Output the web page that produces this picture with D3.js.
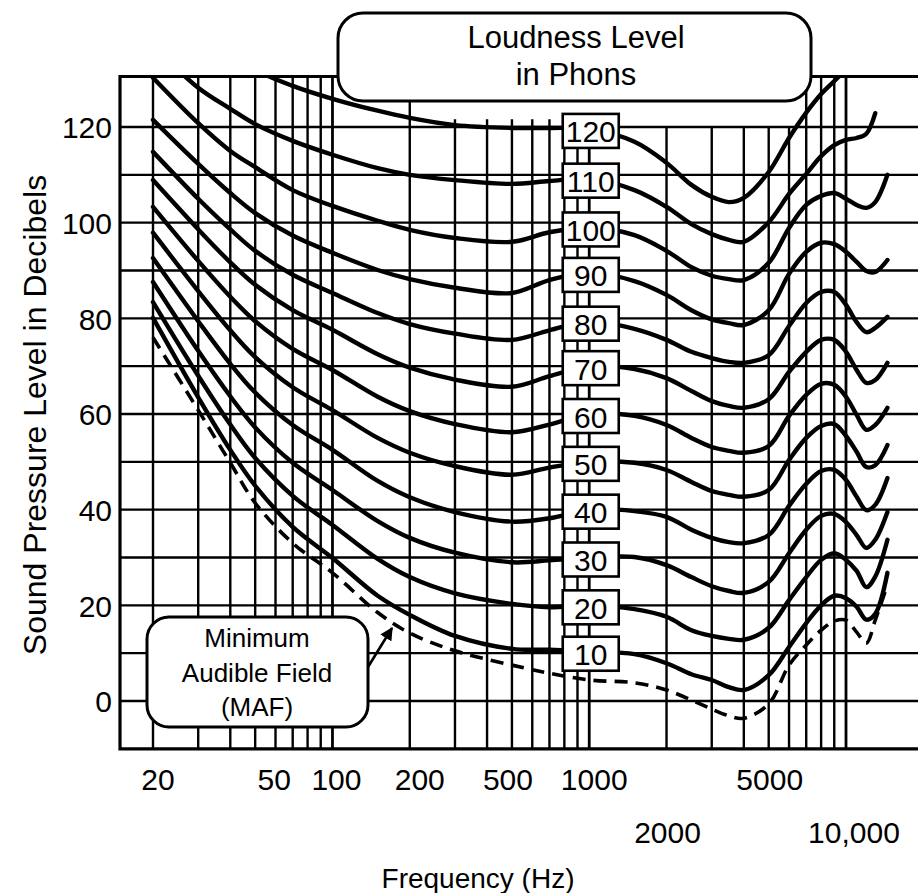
<!DOCTYPE html>
<html><head><meta charset="utf-8">
<script src="https://cdn.jsdelivr.net/npm/d3@7"></script>
<style>
html,body{margin:0;padding:0;background:#fff;}
svg{display:block;font-family:"Liberation Sans", Arial, Helvetica, sans-serif;}
</style></head><body>
<svg id="chart" width="918" height="893"></svg>
<script>
// ---------------- data ----------------
const freqs = [20,30,40,50,70,100,150,200,300,500,700,1000,1500,2000,2500,3000,3500,4000,5000,6000,7000,8000,9000,10000,11000,12000,13000,14500];
const phonLevels = [120,110,100,90,80,70,60,50,40,30,20,10];
const phon120 = [148,141,136,132,128.6,125.9,123.4,121.9,120.4,119.8,119.8,119.6,116.9,112.5,107.9,105.4,104.3,105.2,110.6,117.7,123,126.9,129.6,132,134,null,null,null];
const phon110 = [137,128.2,123.8,120.6,117.1,114.2,111.4,110,108.9,108.1,108.7,109.2,106.8,103.3,99.7,97.6,96.4,96,100.1,106,110.2,113.9,116.2,117.3,117.7,118.6,122.9,null];
const phon100 = [130.3,120.8,115,111.6,106.8,103.5,100.4,98.5,96.8,96,98,99,97.4,94.1,90.7,88.9,88.2,88,91.6,98.9,103.7,105.6,106.2,105,103.7,103.1,104.3,110];
const phon90  = [121.5,112.3,106.2,102,97.3,93.7,90.1,88.2,86.4,85.3,88,89.5,87.8,84.9,81.7,79.8,79,78.6,81.7,89.3,93.9,95.8,95.5,93.9,91.8,89.9,89.7,92.2];
const phon80  = [114.8,105,98.6,94.1,89.1,85.3,81.1,78.8,76.8,75.5,77.5,79.3,77.8,75.5,73,71.7,70.9,70.7,72.3,78.4,83.2,85.5,85.5,82.8,79.2,77.1,78,80.3];
const phon70  = [108.9,98.6,91.7,87,81.7,77.6,72.5,69.7,67.2,65.7,67.9,70,69.4,67.5,64.8,62.7,61.7,61.3,63.1,68.8,73,75.5,75.5,73,69.2,66.5,67.1,70.7];
const phon60  = [103.3,92,84.5,79.4,73.6,69.2,63.6,60.6,57.9,56.2,57.8,60,59.6,57.7,55,53.1,52.3,51.9,53.3,59.6,64,66.3,66.1,63.6,59.8,56.7,57.7,61.3];
const phon50  = [97.9,85.7,77.5,71.9,65.6,60.8,55,51.9,49.1,47.3,48.8,50,49.8,48.3,45.8,43.9,43.1,42.7,44.1,50.4,55,57.5,57.9,55.4,52.1,48.9,49.3,53.5];
const phon40  = [92.6,79.4,70.5,64.5,57.7,52.5,46,42.6,39.5,37.5,38.2,40,39.7,38.5,35.8,34.1,33.2,33,34.7,40.8,45.4,48.1,48.3,46.2,42.7,39.9,41,46.6];
const phon30  = [87.6,73.2,63.7,57.2,49.8,44.1,37.6,34.1,31,29,29.4,30,30.1,28.4,25.9,24,23,22.6,24.9,30.9,35.8,38.7,39.1,37.4,34.7,32,33.7,39.5];
const phon20  = [83.4,68,57.8,50.8,42.9,36.8,29.7,25.9,22.5,20.3,19.6,20,19.2,17.6,14.8,13.6,13,12.8,15.3,21.1,25.9,29.5,30.9,29.5,27.2,23.8,26,33.7];
const phon10  = [80.1,63.5,52.5,45,36.4,29.9,22,18,13.6,10.9,10.7,10.3,9.8,7.9,5.6,4.4,2.9,2.3,5.4,11.3,16.3,20,22,21.5,19.7,17,18.2,26.8];
const mafCurve = [76,60.8,49.8,41.4,33,26.8,18.5,14.2,10.5,7.5,5.8,4.4,3.8,2.3,0.2,-1.7,-3.1,-3.6,-0.6,7.5,11.7,14.8,16.7,16.9,14.4,12.1,16.9,24.3];
const yTickValues = [0,20,40,60,80,100,120];
const xTickValues = [20,50,100,200,500,1000,2000,5000,10000];
const xTickText = ["20","50","100","200","500","1000","2000","5000","10,000"];
const titleLines = ["Loudness Level","in Phons"];
const mafLines = ["Minimum","Audible Field","(MAF)"];
const xTitle = "Frequency (Hz)";
const yTitle = "Sound Pressure Level in Decibels";

const phonSeries = [phon120,phon110,phon100,phon90,phon80,phon70,phon60,phon50,phon40,phon30,phon20,phon10];

// ---------------- layout ----------------
const svg = d3.select("#chart");
const x = d3.scaleLog().domain([20,10000]).range([153,846]);
const y = d3.scaleLinear().domain([0,120]).range([701,127]);
const frame = {left:120, right:922, top:76.5, bottom:y(-10)};

const gGrid = svg.append("g").attr("stroke","#000").attr("fill","none");
gGrid.selectAll("line.h").data(d3.range(0,121,10)).join("line")
  .attr("x1",frame.left).attr("x2",frame.right)
  .attr("y1",d=>y(d)).attr("y2",d=>y(d)).attr("stroke-width",2.4);
const gridF = x.ticks();
function lineTop(f){
  if (f<=200 || f>=7000) return frame.top;
  if (f<=1000) return y(121.6);
  return y(120);
}
gGrid.selectAll("line.v").data(gridF).join("line")
  .attr("x1",d=>x(d)).attr("x2",d=>x(d))
  .attr("y1",d=>lineTop(d)).attr("y2",frame.bottom)
  .attr("stroke-width",d=>(d===100||d===1000||d===10000)?2.8:2.4);
gGrid.append("path")
  .attr("d",`M${frame.right},${frame.top}H${frame.left}V${frame.bottom}H${frame.right}`)
  .attr("stroke-width",3.2);

// curves
svg.append("clipPath").attr("id","plotclip").append("rect")
  .attr("x",frame.left).attr("y",frame.top).attr("width",frame.right-frame.left).attr("height",frame.bottom-frame.top);
const line = d3.line()
  .defined(d=>d[1]!==null)
  .x(d=>x(d[0])).y(d=>y(d[1]))
  .curve(d3.curveCatmullRom.alpha(0.5));
const gCurves = svg.append("g").attr("clip-path","url(#plotclip)").attr("fill","none").attr("stroke","#000");
gCurves.selectAll("path.phon").data(phonSeries).join("path")
  .attr("d",s=>line(freqs.map((f,i)=>[f,s[i]])))
  .attr("stroke-width",4.4).attr("stroke-linejoin","round").attr("stroke-linecap","round");
gCurves.append("path")
  .attr("d",line(freqs.map((f,i)=>[f,mafCurve[i]])))
  .attr("stroke-width",3.6).attr("stroke-dasharray","13 8");

// phon label boxes at 1000 Hz
const i1k = freqs.indexOf(1000);
const gLab = svg.append("g");
phonLevels.forEach((p,k)=>{
  const cx = x(1000)+1.5, cy = y(phonSeries[k][i1k])+2;
  gLab.append("rect").attr("x",cx-28).attr("y",cy-17).attr("width",56).attr("height",34)
    .attr("fill","#fff").attr("stroke","#000").attr("stroke-width",2.6);
  gLab.append("text").attr("x",cx).attr("y",cy+1).attr("text-anchor","middle")
    .attr("dominant-baseline","central").attr("font-size",30).text(p);
});

// title box
const gT = svg.append("g");
gT.append("rect").attr("x",338).attr("y",13).attr("width",473).attr("height",88).attr("rx",25)
  .attr("fill","#fff").attr("stroke","#000").attr("stroke-width",3);
gT.selectAll("text").data(titleLines).join("text")
  .attr("x",576).attr("y",(d,i)=>48+i*37).attr("text-anchor","middle").attr("font-size",31).text(d=>d);

// MAF annotation
const gM = svg.append("g");
svg.append("defs").append("marker").attr("id","arr").attr("viewBox","0 0 10 10")
  .attr("refX",9).attr("refY",5).attr("markerWidth",5).attr("markerHeight",5).attr("orient","auto")
  .append("path").attr("d","M0,0L10,5L0,10Z").attr("fill","#000");
gM.append("line").attr("x1",368).attr("y1",667).attr("x2",392).attr("y2",628)
  .attr("stroke","#000").attr("stroke-width",2.6).attr("marker-end","url(#arr)");
gM.append("rect").attr("x",147).attr("y",617).attr("width",221).attr("height",110).attr("rx",22)
  .attr("fill","#fff").attr("stroke","#000").attr("stroke-width",3);
gM.selectAll("text").data(mafLines).join("text")
  .attr("x",257).attr("y",(d,i)=>647+i*34.5).attr("text-anchor","middle").attr("font-size",26).text(d=>d);

// y axis labels
const yAxis = d3.axisLeft(y).tickValues(yTickValues).tickSize(0).tickPadding(0);
const gy = svg.append("g").attr("transform","translate(112,0)").call(yAxis);
gy.select(".domain").remove();
gy.selectAll("text").attr("font-size",30).attr("font-family","Liberation Sans, Arial, sans-serif").attr("fill","#000").attr("dy","0.36em");

// x axis labels (two staggered rows)
const xLabelDx = {20:5,50:19,100:4,200:10,500:-4,1000:5,2000:1,5000:1,10000:8};
const secondRow = new Set([2000,10000]);
svg.append("g").selectAll("text").data(xTickValues).join("text")
  .attr("x",d=>x(d)+xLabelDx[d]).attr("y",d=>secondRow.has(d)?843:790)
  .attr("text-anchor","middle").attr("font-size",30).text((d,i)=>xTickText[i]);

// axis titles
svg.append("text").attr("x",478).attr("y",888).attr("text-anchor","middle").attr("font-size",28).text(xTitle);
svg.append("text").attr("transform","translate(46,415) rotate(-90)").attr("text-anchor","middle").attr("font-size",32).text(yTitle);
</script>
</body></html>
